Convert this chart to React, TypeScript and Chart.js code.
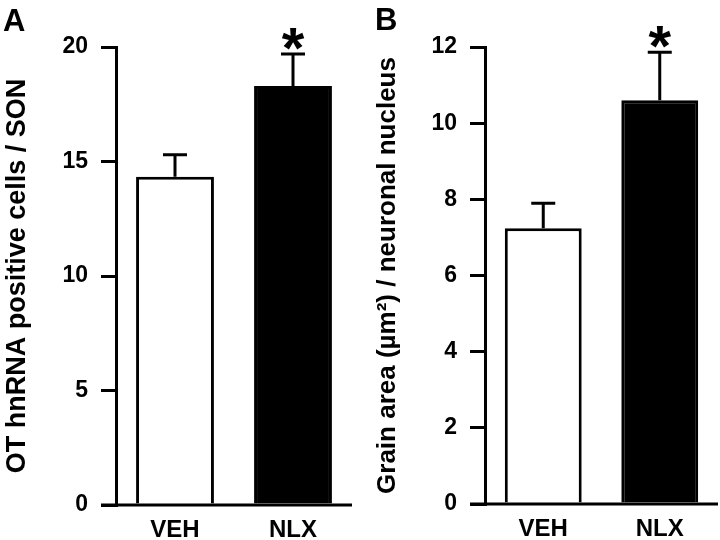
import React, { useEffect, useRef } from "react";
import { Chart, registerables } from "chart.js";
Chart.register(...registerables);

// ---- data ----
const categories = ["VEH", "NLX"];
const panelAMeans = [14.33, 18.3];
const panelASems = [0.96, 1.39];
const panelAStars = ["", "*"];
const panelBMeans = [7.24, 10.6];
const panelBSems = [0.66, 1.26];
const panelBStars = ["", "*"];
const panelATitle = "OT hnRNA positive cells / SON";
const panelBTitle = "Grain area (\u00B5m\u00B2) / neuronal nucleus";

const FONT = "'Liberation Sans', Arial, Helvetica, sans-serif";

const overlay = {
  id: "overlay",
  afterDatasetsDraw(chart: any, _args: any, opts: any) {
    const ctx = chart.ctx;
    const xs = chart.scales.x;
    const ys = chart.scales.y;
    const { means, sems, stars, tickLen, letter, letterX, letterY } = opts;
    ctx.save();
    ctx.strokeStyle = "#000";
    ctx.fillStyle = "#000";
    ctx.lineWidth = 3;
    const y0 = ys.getPixelForValue(0);
    ctx.beginPath();
    ctx.moveTo(chart.chartArea.left - tickLen, y0);
    ctx.lineTo(chart.chartArea.right, y0);
    ctx.stroke();
    means.forEach((m: number, i: number) => {
      const cx = xs.getPixelForValue(i);
      const base = ys.getPixelForValue(m);
      const top = ys.getPixelForValue(m + sems[i]);
      ctx.beginPath();
      ctx.moveTo(cx, base);
      ctx.lineTo(cx, top);
      ctx.moveTo(cx - 12, top);
      ctx.lineTo(cx + 12, top);
      ctx.stroke();
      if (stars[i]) {
        ctx.font = `bold 58px ${FONT}`;
        ctx.textAlign = "center";
        ctx.textBaseline = "alphabetic";
        ctx.fillText(stars[i], cx, top + 14);
      }
    });
    ctx.font = `bold 31px ${FONT}`;
    ctx.textAlign = "left";
    ctx.textBaseline = "alphabetic";
    ctx.fillText(letter, letterX, letterY);
    ctx.restore();
  },
};

function Panel(props: {
  means: number[];
  sems: number[];
  stars: string[];
  max: number;
  step: number;
  title: string;
  titleSize: number;
  titlePad: number;
  axisWidth: number;
  rightPad: number;
  bottomH: number;
  letter: string;
  letterX: number;
  letterY: number;
}) {
  const ref = useRef<HTMLCanvasElement>(null);
  useEffect(() => {
    const chart = new Chart(ref.current as HTMLCanvasElement, {
      type: "bar",
      data: {
        labels: categories,
        datasets: [
          {
            data: props.means,
            backgroundColor: ["#ffffff", "#000000"],
            borderColor: "#000000",
            borderWidth: 3,
            barPercentage: 0.66,
            categoryPercentage: 1,
          },
        ],
      },
      options: {
        responsive: false,
        animation: false,
        layout: { padding: { top: 47, right: props.rightPad, left: 0, bottom: 0 } },
        plugins: {
          legend: { display: false },
          tooltip: { enabled: false },
          overlay: {
            means: props.means,
            sems: props.sems,
            stars: props.stars,
            tickLen: 15,
            letter: props.letter,
            letterX: props.letterX,
            letterY: props.letterY,
          },
        } as any,
        scales: {
          x: {
            grid: { display: false, drawTicks: false },
            border: { display: false },
            ticks: {
              color: "#000",
              padding: 11,
              font: { family: FONT, size: 24, weight: "bold" },
            },
            afterFit: (s: any) => {
              s.height = props.bottomH;
            },
          },
          y: {
            min: 0,
            max: props.max,
            ticks: {
              stepSize: props.step,
              color: "#000",
              padding: 13,
              font: { family: FONT, size: 23, weight: "bold" },
            },
            grid: {
              drawOnChartArea: false,
              drawTicks: true,
              tickLength: 15,
              lineWidth: 3,
              color: "#000",
            },
            border: { display: true, width: 3, color: "#000" },
            title: {
              display: true,
              text: props.title,
              color: "#000",
              font: { family: FONT, size: props.titleSize, weight: "bold" },
              padding: { top: props.titlePad, bottom: 0 },
            },
            afterFit: (s: any) => {
              s.width = props.axisWidth;
            },
          },
        },
      } as any,
      plugins: [overlay],
    });
    return () => chart.destroy();
  }, []);
  return <canvas ref={ref} width={360} height={540} />;
}

export default function App() {
  return (
    <div style={{ position: "absolute", left: 0, top: 0, width: 720, height: 540, background: "#fff" }}>
      <div style={{ position: "absolute", left: 0, top: 0, width: 360, height: 540 }}>
        <Panel
          means={panelAMeans}
          sems={panelASems}
          stars={panelAStars}
          max={20}
          step={5}
          title={panelATitle}
          titleSize={27}
          titlePad={1}
          axisWidth={116}
          rightPad={8}
          bottomH={35}
          letter="A"
          letterX={3}
          letterY={31}
        />
      </div>
      <div style={{ position: "absolute", left: 360, top: 0, width: 360, height: 540 }}>
        <Panel
          means={panelBMeans}
          sems={panelBSems}
          stars={panelBStars}
          max={12}
          step={2}
          title={panelBTitle}
          titleSize={26}
          titlePad={12}
          axisWidth={125}
          rightPad={2}
          bottomH={36}
          letter="B"
          letterX={15}
          letterY={30}
        />
      </div>
    </div>
  );
}
